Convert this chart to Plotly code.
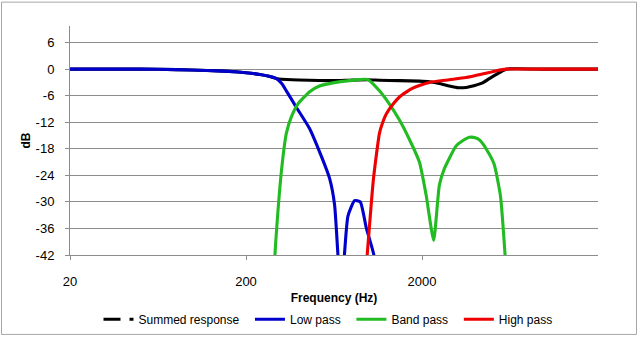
import plotly.graph_objects as go

# ---- data ----
lp_freq = [20, 50, 80, 120, 160, 200, 240, 270, 297, 320, 339, 386, 459, 535, 597, 637, 665, 695, 726, 759, 828, 892, 964, 1060, 1224]
lp_db   = [0, 0, -0.1, -0.3, -0.5, -0.8, -1.2, -1.6, -2.1, -3.3, -4.9, -8.6, -13.4, -19.6, -24.7, -30.6, -41.6, -53, -41.6, -33.2, -29.7, -30.0, -35.8, -41.6, -55]

bp_freq = [280, 294, 318, 339, 362, 394, 460, 523, 623, 775, 984, 1146, 1306, 1489, 1697, 1933, 2110, 2330, 2510, 2680, 3120, 3400, 3715, 4018, 4300, 4820, 5150, 5570, 5920, 6180]
bp_db   = [-55, -40, -23, -14.5, -10.8, -7.9, -5.1, -3.8, -3.1, -2.6, -2.35, -4.9, -7.9, -11.5, -15.9, -21, -28.4, -38.7, -26.2, -22.5, -17.4, -16.2, -15.4, -15.5, -16.2, -19.2, -21.6, -28.4, -41.6, -55]

hp_freq = [930, 978, 1029, 1060, 1099, 1146, 1197, 1251, 1364, 1489, 1625, 1772, 1933, 2202, 2859, 3554, 4419, 5260, 6020, 10000, 20000]
hp_db   = [-55, -41.6, -30.6, -24.7, -19.6, -14.5, -12.0, -10.2, -8.0, -6.3, -5.2, -4.3, -3.7, -3.0, -2.4, -1.9, -1.1, -0.4, 0, 0, 0]

sum_freq = [20, 50, 80, 120, 160, 200, 240, 270, 297, 318, 400, 523, 623, 775, 984, 1146, 1489, 1933, 2202, 2550, 2859, 3220, 3554, 3715, 4419, 4800, 5260, 6020, 10000, 20000]
sum_db   = [0, 0, -0.1, -0.3, -0.5, -0.8, -1.2, -1.6, -2.1, -2.3, -2.45, -2.55, -2.6, -2.5, -2.4, -2.5, -2.6, -2.7, -2.85, -3.3, -3.8, -4.2, -4.15, -4.0, -3.1, -2.2, -1.25, 0, 0, 0]

series_names = ["Summed response", "Low pass", "Band pass", "High pass"]
x_ticks = [20, 200, 2000]
y_ticks = [6, 0, -6, -12, -18, -24, -30, -36, -42]

BLACK, BLUE, GREEN, RED = "#000000", "#0000CC", "#22BB22", "#EE0000"
LW = 3.1
FONT = "Liberation Sans, Arial, sans-serif"
PAD = "\u00a0\u2009"  # small trailing gap between legend entries

fig = go.Figure()
# legend-only entry for the summed response (dashed symbol as in the reference)
fig.add_trace(go.Scatter(x=[None], y=[None], mode="lines", name=series_names[0] + PAD,
                         line=dict(color=BLACK, width=LW, dash="17px,9px,5px,60px")))
fig.add_trace(go.Scatter(x=sum_freq, y=sum_db, mode="lines", name=series_names[0], showlegend=False,
                         line=dict(color=BLACK, width=LW, shape="spline", smoothing=0.5)))
fig.add_trace(go.Scatter(x=lp_freq, y=lp_db, mode="lines", name=series_names[1] + PAD,
                         line=dict(color=BLUE, width=LW, shape="spline", smoothing=0.5)))
fig.add_trace(go.Scatter(x=bp_freq, y=bp_db, mode="lines", name=series_names[2] + PAD,
                         line=dict(color=GREEN, width=LW, shape="spline", smoothing=0.5)))
fig.add_trace(go.Scatter(x=hp_freq, y=hp_db, mode="lines", name=series_names[3],
                         line=dict(color=RED, width=LW, shape="spline", smoothing=0.5)))

L, R, T, B = 70, 41, 26, 85
W, H = 639, 346
pw, ph = W - L - R, H - T - B

fig.update_layout(
    width=W, height=H,
    margin=dict(l=L, r=R, t=T, b=B, pad=0),
    paper_bgcolor="white", plot_bgcolor="white",
    font=dict(family=FONT, size=13, color="black"),
    showlegend=True,
    legend=dict(orientation="h", x=(328 - L) / pw, xanchor="center",
                y=(H - B - 327) / ph, yanchor="middle",
                font=dict(size=12), bgcolor="rgba(0,0,0,0)", itemwidth=30),
    xaxis=dict(type="log", range=[1.30103, 4.30103],
               tickvals=x_ticks, ticktext=[str(v) for v in x_ticks],
               showgrid=False, zeroline=False,
               showline=True, linecolor="#8c8c8c", linewidth=1,
               ticks="outside", ticklen=4, tickcolor="#8c8c8c",
               ticklabelstandoff=10,
               title=dict(text="<b>Frequency (Hz)</b>", font=dict(size=12), standoff=6)),
    yaxis=dict(range=[-42, 9.75], tickvals=y_ticks, ticktext=[str(v) for v in y_ticks],
               showgrid=True, gridcolor="#8c8c8c", gridwidth=1, zeroline=False,
               showline=True, linecolor="#8c8c8c", linewidth=1,
               ticks="outside", ticklen=4, tickcolor="#8c8c8c",
               ticklabelstandoff=8,
               title=dict(text="<b>dB</b>", font=dict(size=12), standoff=2)),
    shapes=[dict(type="rect", xref="paper", yref="paper",
                 x0=(1.5 - L) / pw, x1=(636.5 - L) / pw,
                 y0=(H - B - 342.5) / ph, y1=1 + (T - 1.5) / ph,
                 line=dict(color="#a6a6a6", width=1), layer="below")],
)

fig.write_html("out.html")
